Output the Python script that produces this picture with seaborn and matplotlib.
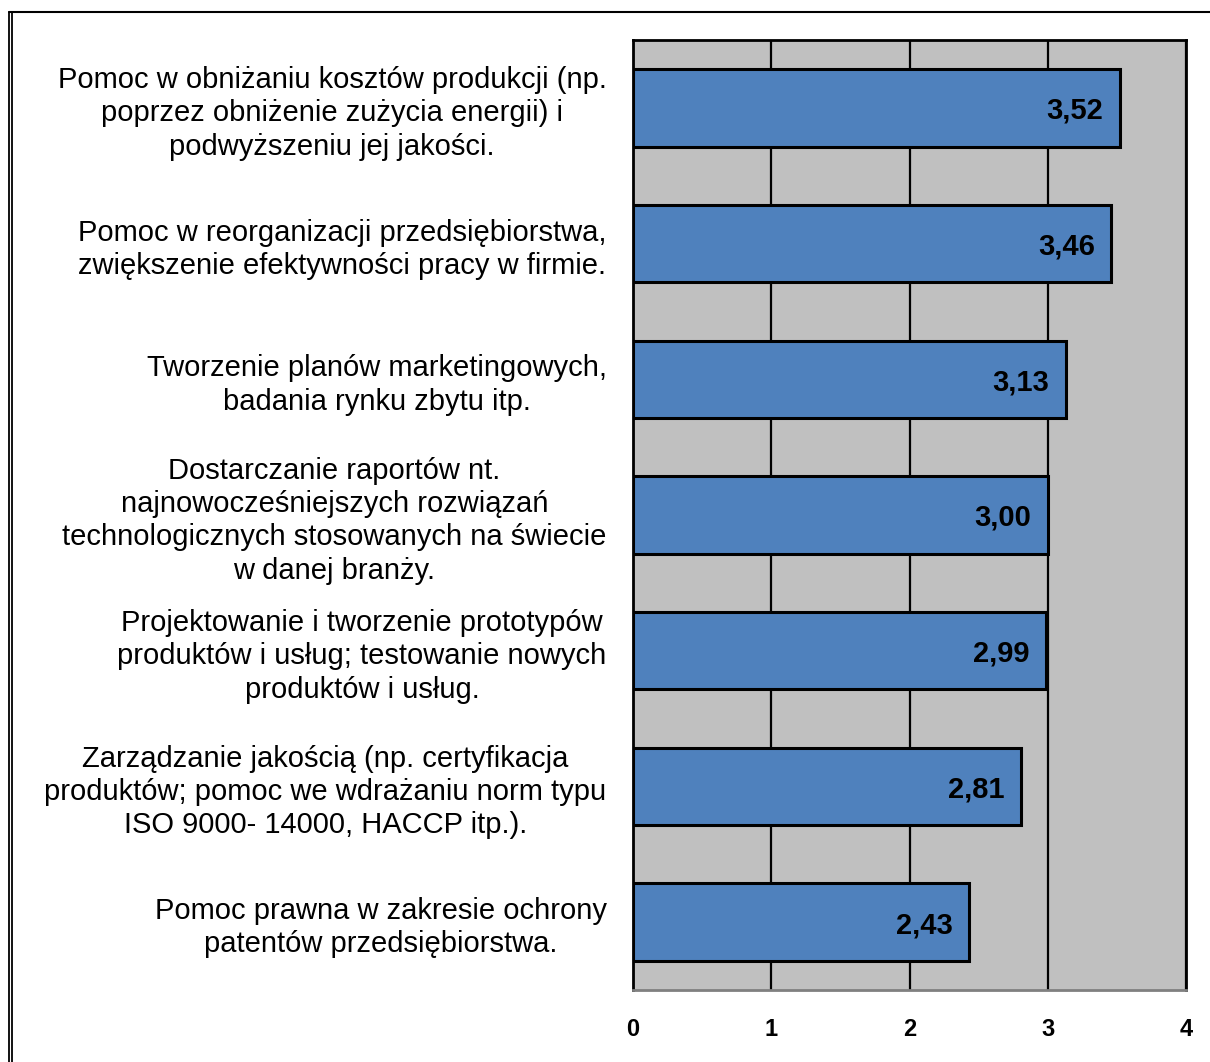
import matplotlib
matplotlib.use("Agg")
import matplotlib.pyplot as plt
from matplotlib.lines import Line2D
import seaborn as sns
import pandas as pd

categories = [
    "Pomoc w obniżaniu kosztów produkcji (np.\npoprzez obniżenie zużycia energii) i\npodwyższeniu jej jakości.",
    "Pomoc w reorganizacji przedsiębiorstwa,\nzwiększenie efektywności pracy w firmie.",
    "Tworzenie planów marketingowych,\nbadania rynku zbytu itp.",
    "Dostarczanie raportów nt.\nnajnowocześniejszych rozwiązań\ntechnologicznych stosowanych na świecie\nw danej branży.",
    "Projektowanie i tworzenie prototypów\nproduktów i usług; testowanie nowych\nproduktów i usług.",
    "Zarządzanie jakością (np. certyfikacja\nproduktów; pomoc we wdrażaniu norm typu\nISO 9000- 14000, HACCP itp.).",
    "Pomoc prawna w zakresie ochrony\npatentów przedsiębiorstwa.",
]
values = [3.52, 3.46, 3.13, 3.00, 2.99, 2.81, 2.43]
xticks = [0, 1, 2, 3, 4]

df = pd.DataFrame({"cat": categories, "val": values})

sns.set_style("white")
plt.rcParams["font.family"] = ["Liberation Sans", "DejaVu Sans"]
plt.rcParams["text.color"] = "black"
plt.rcParams["xtick.color"] = "black"
plt.rcParams["ytick.color"] = "black"

W, H = 1210, 1062
fig = plt.figure(figsize=(W / 100, H / 100), dpi=100)
ax = fig.add_axes([633 / W, 1 - 990 / H, (1186 - 633) / W, (990 - 40) / H])

sns.barplot(data=df, x="val", y="cat", orient="h", color="#4F81BD",
            saturation=1, width=0.57, edgecolor="black", linewidth=2.2, ax=ax)

ax.set_facecolor("#C0C0C0")
ax.set_xlim(0, 4)
ax.set_ylim(6.5, -0.5)
ax.set_xticks(xticks)
ax.set_xticklabels([str(t) for t in xticks], fontsize=17, fontweight="bold")
ax.tick_params(axis="x", length=0, pad=20, colors="black")
ax.tick_params(axis="y", length=0, pad=19, colors="black")
for lab in ax.get_yticklabels():
    lab.set_fontsize(21)
    lab.set_multialignment("center")
    lab.set_linespacing(1.24)
ax.set_xlabel("")
ax.set_ylabel("")
ax.grid(axis="x", color="black", linewidth=1.6)
ax.set_axisbelow(True)

for name in ["left", "top", "right"]:
    ax.spines[name].set_color("black")
    ax.spines[name].set_linewidth(2)
ax.spines["bottom"].set_color("#808080")
ax.spines["bottom"].set_linewidth(2)

for i, v in enumerate(values):
    ax.text(v - 0.12, i, f"{v:.2f}".replace(".", ","), ha="right",
            va="center_baseline", fontsize=21, fontweight="bold", color="black")

# outer frame (double line on left, single on top)
fig.add_artist(Line2D([9 / W, 9 / W], [0, 1 - 12 / H], color="black", lw=1.3,
                      transform=fig.transFigure))
fig.add_artist(Line2D([12 / W, 12 / W], [0, 1 - 12 / H], color="black", lw=1.3,
                      transform=fig.transFigure))
fig.add_artist(Line2D([9 / W, 1], [1 - 12 / H, 1 - 12 / H], color="black", lw=1.5,
                      transform=fig.transFigure))

fig.savefig("out.png", dpi=100, facecolor="white")
